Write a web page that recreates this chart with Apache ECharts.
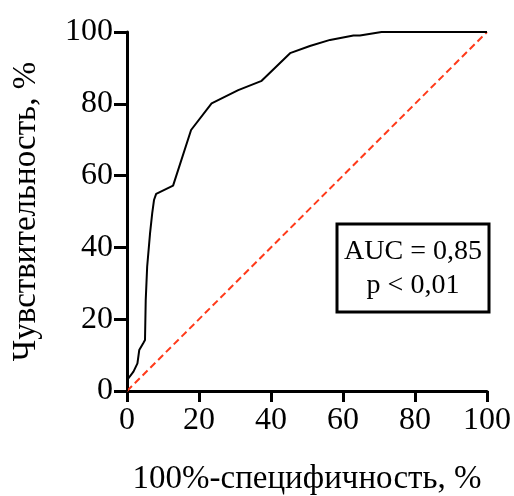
<!DOCTYPE html>
<html>
<head>
<meta charset="utf-8">
<script src="https://cdn.jsdelivr.net/npm/echarts@6/dist/echarts.min.js"></script>
<style>
  html, body { margin: 0; padding: 0; background: #fff; }
  #main { width: 514px; height: 496px; }
</style>
</head>
<body>
<div id="main"></div>
<script>
// ROC: 100%-специфичность (x) vs чувствительность (y)
var rocX = [0, 0, 1.8, 2.9, 3.4, 4.5, 5.0, 5.2, 5.6, 6.4, 7.0, 7.5, 8.1, 12.8, 17.8, 23.5, 30.9, 37.4, 45.3, 50.8, 56.4, 62.9, 64.7, 70.7, 100];
var rocY = [0, 3.0, 5.4, 7.7, 11.4, 13.3, 14.2, 25.3, 34.6, 43.9, 49.5, 53.2, 54.9, 57.2, 72.7, 80.1, 83.8, 86.4, 94.1, 96.1, 97.8, 99.0, 99.0, 100, 100];
var refX = [0, 100];
var refY = [0, 100];
var boxLines = ['AUC = 0,85', 'p < 0,01'];

var serif = 'Liberation Serif, Times New Roman, serif';
var myChart = echarts.init(document.getElementById('main'));

var option = {
    animation: false,
    grid: {
        left: 127,
        right: 27,
        top: 32,
        bottom: 105,
        outerBoundsMode: 'none'
    },
    xAxis: {
        type: 'value',
        min: 0,
        max: 100,
        interval: 20,
        name: '100%-специфичность, %',
        nameLocation: 'middle',
        nameGap: 72,
        nameTextStyle: { fontFamily: serif, fontSize: 33, color: '#000' },
        axisLine: { onZero: false, lineStyle: { color: '#000', width: 3 } },
        axisTick: { length: 11, lineStyle: { color: '#000', width: 3 } },
        axisLabel: { margin: 14, fontFamily: serif, fontSize: 32, color: '#000' },
        splitLine: { show: false }
    },
    yAxis: {
        type: 'value',
        min: 0,
        max: 100,
        interval: 20,
        name: 'Чувствительность, %',
        nameLocation: 'middle',
        nameRotate: 90,
        nameGap: 84,
        nameTextStyle: { fontFamily: serif, fontSize: 33, color: '#000' },
        axisLine: { onZero: false, lineStyle: { color: '#000', width: 3 } },
        axisTick: { length: 13, lineStyle: { color: '#000', width: 3 } },
        axisLabel: { margin: 14, fontFamily: serif, fontSize: 32, color: '#000' },
        splitLine: { show: false }
    },
    series: [{
        type: 'line',
        symbol: 'none',
        z: 3,
        lineStyle: { color: '#ff3a1a', width: 2, type: [7, 4] },
        data: refX.map(function (x, i) { return [x, refY[i]]; })
    }, {
        type: 'line',
        symbol: 'none',
        z: 4,
        lineStyle: { color: '#000', width: 2 },
        data: rocX.map(function (x, i) { return [x, rocY[i]]; })
    }],
    graphic: [{
        type: 'rect',
        x: 337,
        y: 224,
        shape: { width: 152, height: 88 },
        style: { fill: '#fff', stroke: '#000', lineWidth: 3 },
        z: 10
    }, {
        type: 'text',
        x: 413,
        y: 235,
        style: {
            text: boxLines.join('\n'),
            fontFamily: serif,
            fontSize: 28,
            lineHeight: 34,
            fill: '#000',
            align: 'center',
            verticalAlign: 'top'
        },
        z: 11
    }]
};

myChart.setOption(option);
</script>
</body>
</html>
